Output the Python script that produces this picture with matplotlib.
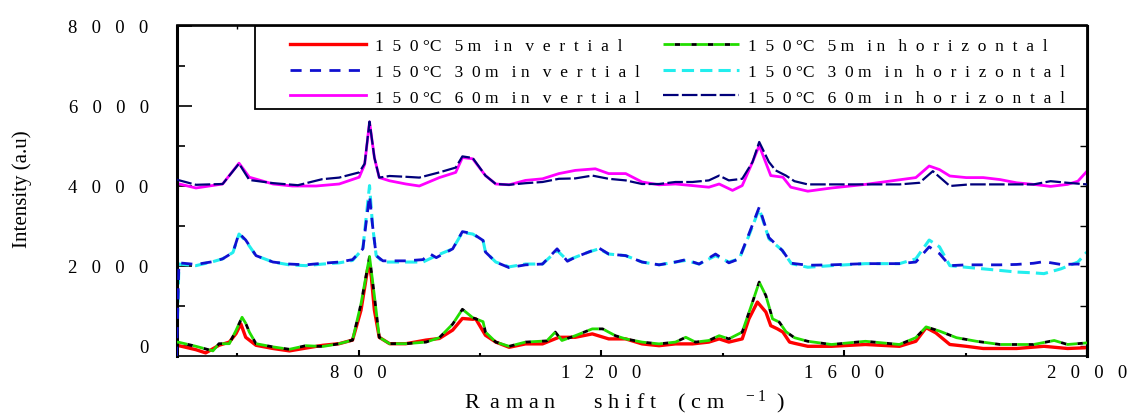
import matplotlib
matplotlib.use("Agg")
import matplotlib.pyplot as plt
from matplotlib.patches import Rectangle
from matplotlib.ticker import FixedLocator, FuncFormatter, NullFormatter

plt.rcParams['font.family'] = ['Liberation Serif', 'DejaVu Serif']
plt.rcParams['mathtext.fontset'] = 'custom'
plt.rcParams['mathtext.rm'] = 'Liberation Serif'
plt.rcParams['mathtext.default'] = 'regular'

# ---------------- data ----------------
x_5v = [500, 504, 532, 548, 570, 587, 598, 606, 614, 631, 659, 686, 713, 741, 768, 790, 804, 815, 818, 821,
        826, 834, 851, 878, 911, 933, 955, 971, 988, 993, 1009, 1026, 1048, 1075, 1103, 1130, 1157, 1185,
        1212, 1240, 1267, 1295, 1322, 1350, 1377, 1394, 1410, 1432, 1443, 1457, 1471, 1479, 1490, 1499,
        1510, 1518, 1540, 1579, 1635, 1691, 1718, 1735, 1751, 1774, 1801, 1829, 1884, 1929, 1968, 2000]
y_5v = [-30, 0, -100, -180, 10, 90, 300, 545, 210, 10, -70, -130, -60, 10, 50, 140, 890, 1930, 2000, 1720,
        890, 210, 50, 50, 140, 180, 390, 680, 660, 670, 260, 90, -40, 45, 45, 210, 210, 295,
        170, 170, 45, 0, 45, 45, 90, 170, 90, 170, 670, 1090, 840, 500, 420, 340,
        90, 60, -15, -15, 30, -15, 110, 450, 320, 30, -15, -70, -70, -15, -70, -50]

x_5h = [500, 504, 532, 560, 570, 587, 598, 608, 614, 620, 631, 659, 686, 713, 741, 768, 790, 804, 818, 826,
        834, 851, 878, 911, 933, 955, 971, 988, 1005, 1009, 1026, 1048, 1075, 1110, 1124, 1135, 1157, 1185,
        1202, 1223, 1240, 1267, 1295, 1322, 1339, 1355, 1377, 1394, 1410, 1432, 1449, 1460, 1471, 1482,
        1493, 1504, 1518, 1540, 1579, 1635, 1691, 1718, 1735, 1757, 1785, 1818, 1857, 1912, 1946, 1968, 2000]
y_5h = [90, 85, -15, -130, 50, 50, 380, 710, 560, 340, 50, -30, -90, 0, -20, 50, 140, 1050, 2230, 1250,
        210, 50, 50, 90, 200, 540, 910, 700, 600, 340, 90, -15, 90, 120, 340, 130, 250, 420,
        420, 250, 170, 90, 45, 90, 210, 90, 130, 250, 170, 340, 1090, 1590, 1250, 670,
        590, 350, 200, 110, 30, 110, 30, 200, 470, 365, 200, 110, 30, 30, 130, 30, 70]

x_30 = [500, 504, 532, 560, 576, 593, 603, 614, 631, 659, 686, 713, 741, 768, 790, 807, 818, 823, 829, 840,
        878, 906, 917, 928, 955, 971, 988, 1005, 1009, 1026, 1048, 1075, 1103, 1127, 1144, 1157, 1179, 1196,
        1212, 1240, 1267, 1295, 1322, 1339, 1361, 1388, 1410, 1427, 1443, 1460, 1476, 1498, 1513, 1540,
        1579, 1635, 1691, 1718, 1740, 1757, 1774, 1801, 1829, 1857, 1884, 1912, 1929, 1957, 1985, 2000]
y_30v = [-300, 2070, 2030, 2100, 2170, 2330, 2810, 2640, 2250, 2090, 2040, 2020, 2060, 2090, 2150, 2420, 3750, 3000, 2250, 2120,
         2120, 2150, 2300, 2200, 2420, 2850, 2800, 2630, 2340, 2090, 1950, 2020, 2040, 2420, 2110, 2210, 2340, 2440,
         2290, 2250, 2090, 2020, 2090, 2150, 2040, 2290, 2070, 2170, 2790, 3460, 2700, 2380, 2060, 2010,
         2020, 2050, 2050, 2090, 2470, 2300, 2000, 2020, 2020, 2020, 2030, 2060, 2100, 2030, 2040, 2000]
y_30h = [-300, 2040, 2000, 2100, 2170, 2330, 2790, 2620, 2250, 2090, 2020, 2000, 2040, 2070, 2130, 2420, 4000, 3000, 2250, 2090,
         2090, 2090, 2170, 2250, 2420, 2830, 2790, 2630, 2340, 2090, 1970, 2040, 2040, 2380, 2130, 2210, 2340, 2420,
         2290, 2250, 2090, 2020, 2090, 2130, 2040, 2250, 2090, 2170, 2750, 3420, 2670, 2380, 2050, 1960,
         2000, 2050, 2050, 2170, 2640, 2470, 2000, 1960, 1920, 1880, 1840, 1820, 1800, 1920, 2090, 2340]

x_60v = [500, 502, 532, 576, 603, 620, 659, 691, 730, 768, 801, 810, 818, 826, 834, 851, 878, 900, 933, 960,
         971, 988, 1009, 1026, 1048, 1075, 1103, 1130, 1157, 1190, 1212, 1240, 1267, 1295, 1322, 1350, 1377,
         1394, 1416, 1432, 1449, 1460, 1479, 1499, 1512, 1540, 1579, 1635, 1674, 1718, 1740, 1757, 1774,
         1801, 1829, 1857, 1884, 1912, 1940, 1968, 1985, 2000]
y_60v = [1100, 4050, 3940, 4040, 4560, 4210, 4040, 3990, 3990, 4040, 4210, 4530, 5590, 4700, 4200, 4120, 4040, 3990, 4200, 4330,
         4700, 4670, 4250, 4040, 4020, 4130, 4170, 4300, 4380, 4420, 4300, 4300, 4090, 4020, 4040, 4000, 3960,
         4040, 3880, 4000, 4590, 5000, 4250, 4210, 3960, 3860, 3940, 4030, 4110, 4200, 4490, 4400, 4240,
         4200, 4200, 4150, 4070, 4030, 3980, 4030, 4110, 4360]

x_60h = [500, 532, 576, 603, 620, 660, 700, 740, 768, 801, 810, 818, 826, 834, 851, 878, 900, 933, 960, 971,
         988, 1009, 1026, 1048, 1075, 1103, 1130, 1157, 1185, 1212, 1240, 1267, 1295, 1322, 1350, 1377, 1394,
         1410, 1432, 1449, 1460, 1476, 1487, 1504, 1518, 1540, 1579, 1635, 1691, 1724, 1746, 1774, 1807,
         1857, 1912, 1940, 1968, 2000]
y_60h = [4150, 4020, 4040, 4550, 4140, 4060, 4010, 4160, 4200, 4330, 4550, 5600, 4700, 4200, 4240, 4220, 4200, 4330, 4450, 4730,
         4690, 4250, 4040, 4020, 4060, 4090, 4170, 4180, 4250, 4170, 4130, 4040, 4040, 4090, 4090, 4130, 4250,
         4130, 4170, 4590, 5090, 4590, 4380, 4250, 4110, 4030, 4030, 4030, 4030, 4070, 4360, 3990, 4030,
         4030, 4030, 4110, 4070, 4030]

labels = [
    "1  5  0 °C   5 m   i n   v  e  r  t  i  a  l",
    "1  5  0 °C   3  0 m   i n   v  e  r  t  i  a  l",
    "1  5  0 °C   6  0 m   i n   v  e  r  t  i  a  l",
    "1  5  0 °C   5 m   i n   h  o  r  i  z  o  n  t  a  l",
    "1  5  0 °C   3  0 m   i n   h  o  r  i  z  o  n  t  a  l",
    "1  5  0 °C   6  0 m   i n   h  o  r  i  z  o  n  t  a  l",
]
y_ticks = [0, 2000, 4000, 6000, 8000]
x_ticks = [800, 1200, 1600, 2000]
x_minor = [600, 1000, 1400, 1800]
y_minor = [1000, 3000, 5000, 7000]

# ---------------- figure ----------------
W, H = 1127, 414
L, R, T, B = 176.5, 1087.0, 26.5, 356.7
fig = plt.figure(figsize=(W / 100, H / 100), dpi=100)
ax = fig.add_axes([L / W, 1 - B / H, (R - L) / W, (B - T) / H])

def ax_x(px):
    return (px - L) / (R - L)

def ax_y(py):
    return (B - py) / (B - T)

l5v, = ax.plot(x_5v, y_5v, color='#ff0000', lw=2.4, label=labels[0], zorder=2)
l5h, = ax.plot(x_5h, y_5h, color='#22dd00', lw=2.0, ls=(0, (4, 2)), gapcolor='black', label=labels[3], zorder=3)
l60v, = ax.plot(x_60v, y_60v, color='#ff00ff', lw=2.0, label=labels[2], zorder=2)
l60h, = ax.plot(x_60h, y_60h, color='#00007a', lw=1.6, ls=(0, (7, 1.5)), label=labels[5], zorder=3)
l30h, = ax.plot(x_30, y_30h, color='#22eeee', lw=2.2, ls=(0, (4, 2)), label=labels[4], zorder=2)
l30v, = ax.plot(x_30, y_30v, color='#1010d0', lw=2.0, ls=(0, (4, 3)), label=labels[1], zorder=3)

ax.set_xlim(500, 2000)
ax.set_ylim(-250, 8000)

sp = lambda v, pos=None: "   ".join(str(int(v)))
ax.xaxis.set_major_locator(FixedLocator(x_ticks))
ax.xaxis.set_minor_locator(FixedLocator(x_minor))
ax.xaxis.set_major_formatter(FuncFormatter(sp))
ax.xaxis.set_minor_formatter(NullFormatter())
ax.yaxis.set_major_locator(FixedLocator(y_ticks))
ax.yaxis.set_minor_locator(FixedLocator(y_minor))
ax.yaxis.set_major_formatter(FuncFormatter(sp))

ax.tick_params(axis='x', which='major', direction='in', length=4, width=1.5, labelsize=13.5, pad=6)
ax.tick_params(axis='x', which='minor', direction='in', length=2, width=1.5)
ax.tick_params(axis='y', which='major', direction='in', length=11, width=1.2, labelsize=13.5, pad=20)
ax.tick_params(axis='y', which='minor', direction='in', length=6, width=1.2)

secx = ax.secondary_xaxis('top')
secx.xaxis.set_major_locator(FixedLocator(x_ticks + x_minor))
secx.tick_params(direction='in', length=3, width=1, labeltop=False)
secx.spines['top'].set_linewidth(1.2)
secy = ax.secondary_yaxis('right')
secy.yaxis.set_major_locator(FixedLocator(y_ticks + y_minor))
secy.tick_params(direction='in', length=5, width=1, labelright=False)
secy.spines['right'].set_linewidth(2.2)

ax.spines['left'].set_linewidth(2.2)
ax.spines['right'].set_linewidth(2.2)
ax.spines['bottom'].set_linewidth(1.2)
ax.spines['top'].set_linewidth(1.2)

ax.set_xlabel("R  a m a n       s h i f t    ( c m    $^{-\\,1}$  )", fontsize=16)
ax.xaxis.set_label_coords(0.4925, ax_y(408))
ax.xaxis.label.set_va('baseline')
ax.set_ylabel("Intensity (a.u)", fontsize=15)
ax.yaxis.set_label_coords(ax_x(22), ax_y(189))
ax.yaxis.label.set_va('center')

# legend box (frame drawn separately, as in the reference)
ax.add_patch(Rectangle((ax_x(255), ax_y(110)), 1.0 - ax_x(255), 1.0 - ax_y(110),
                       transform=ax.transAxes, facecolor='white', edgecolor='black',
                       lw=1.3, zorder=4, clip_on=False))
handles = [l5v, l30v, l60v, l5h, l30h, l60h]
leg = ax.legend(handles, labels, ncol=2, loc='upper left',
                bbox_to_anchor=(ax_x(290), ax_y(39)),
                borderaxespad=0.0, borderpad=0.0, frameon=False,
                fontsize=12.5, handlelength=4.4, handletextpad=0.5, columnspacing=1.3,
                labelspacing=0.55)
leg.set_zorder(5)

fig.savefig("out.png", dpi=100)
